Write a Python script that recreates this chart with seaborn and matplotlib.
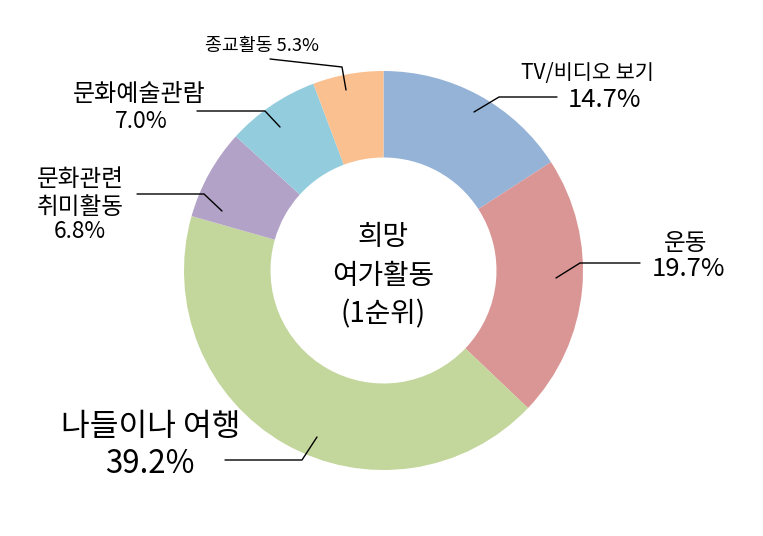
import matplotlib
matplotlib.use("Agg")
import matplotlib.pyplot as plt
import seaborn as sns

# Data
categories = ["TV/비디오 보기", "운동", "나들이나 여행", "문화관련\n취미활동", "문화예술관람", "종교활동"]
values = [14.7, 19.7, 39.2, 6.8, 7.0, 5.3]
colors = ["#95B3D7", "#D99694", "#C3D69B", "#B3A2C7", "#93CDDD", "#FAC090"]
center_title = "희망\n여가활동\n(1순위)"

sns.set_theme(style="white")
plt.rcParams["font.family"] = ["Noto Sans CJK KR", "DejaVu Sans"]

W, H = 763, 536
fig = plt.figure(figsize=(W / 100, H / 100), dpi=100)
ax = fig.add_axes([0, 0, 1, 1])

cx, cy = 383.5, H - 270.5
R = 199.5
r_in = 113

ax.pie(values, colors=sns.color_palette(colors), startangle=90, counterclock=False,
       center=(cx, cy), radius=R, wedgeprops=dict(width=R - r_in, linewidth=0))
ax.set_xlim(0, W)
ax.set_ylim(0, H)
ax.set_aspect("equal")
ax.axis("off")

def P(x, y):
    return (x, H - y)

def T(x, y, s, fs):
    ax.text(x, H - y, s, ha="center", va="center", fontsize=fs, color="black")

# Center text
ax.text(*P(383, 276), center_title, ha="center", va="center", fontsize=20,
        linespacing=1.37, color="black")

lw = 1.0
def leader(pts):
    xs = [p[0] for p in pts]
    ys = [H - p[1] for p in pts]
    ax.plot(xs, ys, color="black", lw=lw)

def pct(v):
    return f"{v:.1f}%"

# TV
leader([(474, 112), (499, 97), (557, 97)])
T(587, 73, categories[0], 15)
T(604, 100, pct(values[0]), 18.5)

# 운동
leader([(556, 278), (580, 263), (640, 263)])
T(686, 244, categories[1], 17)
T(688, 269, pct(values[1]), 18.5)

# 나들이나 여행
leader([(317, 437), (302, 460), (225, 460)])
T(151, 427, categories[2], 22.5)
T(150, 464, pct(values[2]), 22.5)

# 문화관련 취미활동
leader([(222, 211), (204, 194), (137, 194)])
T(80, 179, "문화관련", 17)
T(80, 208, "취미활동", 17)
T(80, 232, pct(values[3]), 16.3)

# 문화예술관람
leader([(280, 127), (265, 111), (197, 111)])
T(139, 94, categories[4], 17.3)
T(141, 121, pct(values[4]), 16.5)

# 종교활동
leader([(346, 90), (342, 67), (270, 59)])
T(262, 46, f"{categories[5]} {pct(values[5])}", 13.2)

fig.savefig("out.png", dpi=100, facecolor="white")
